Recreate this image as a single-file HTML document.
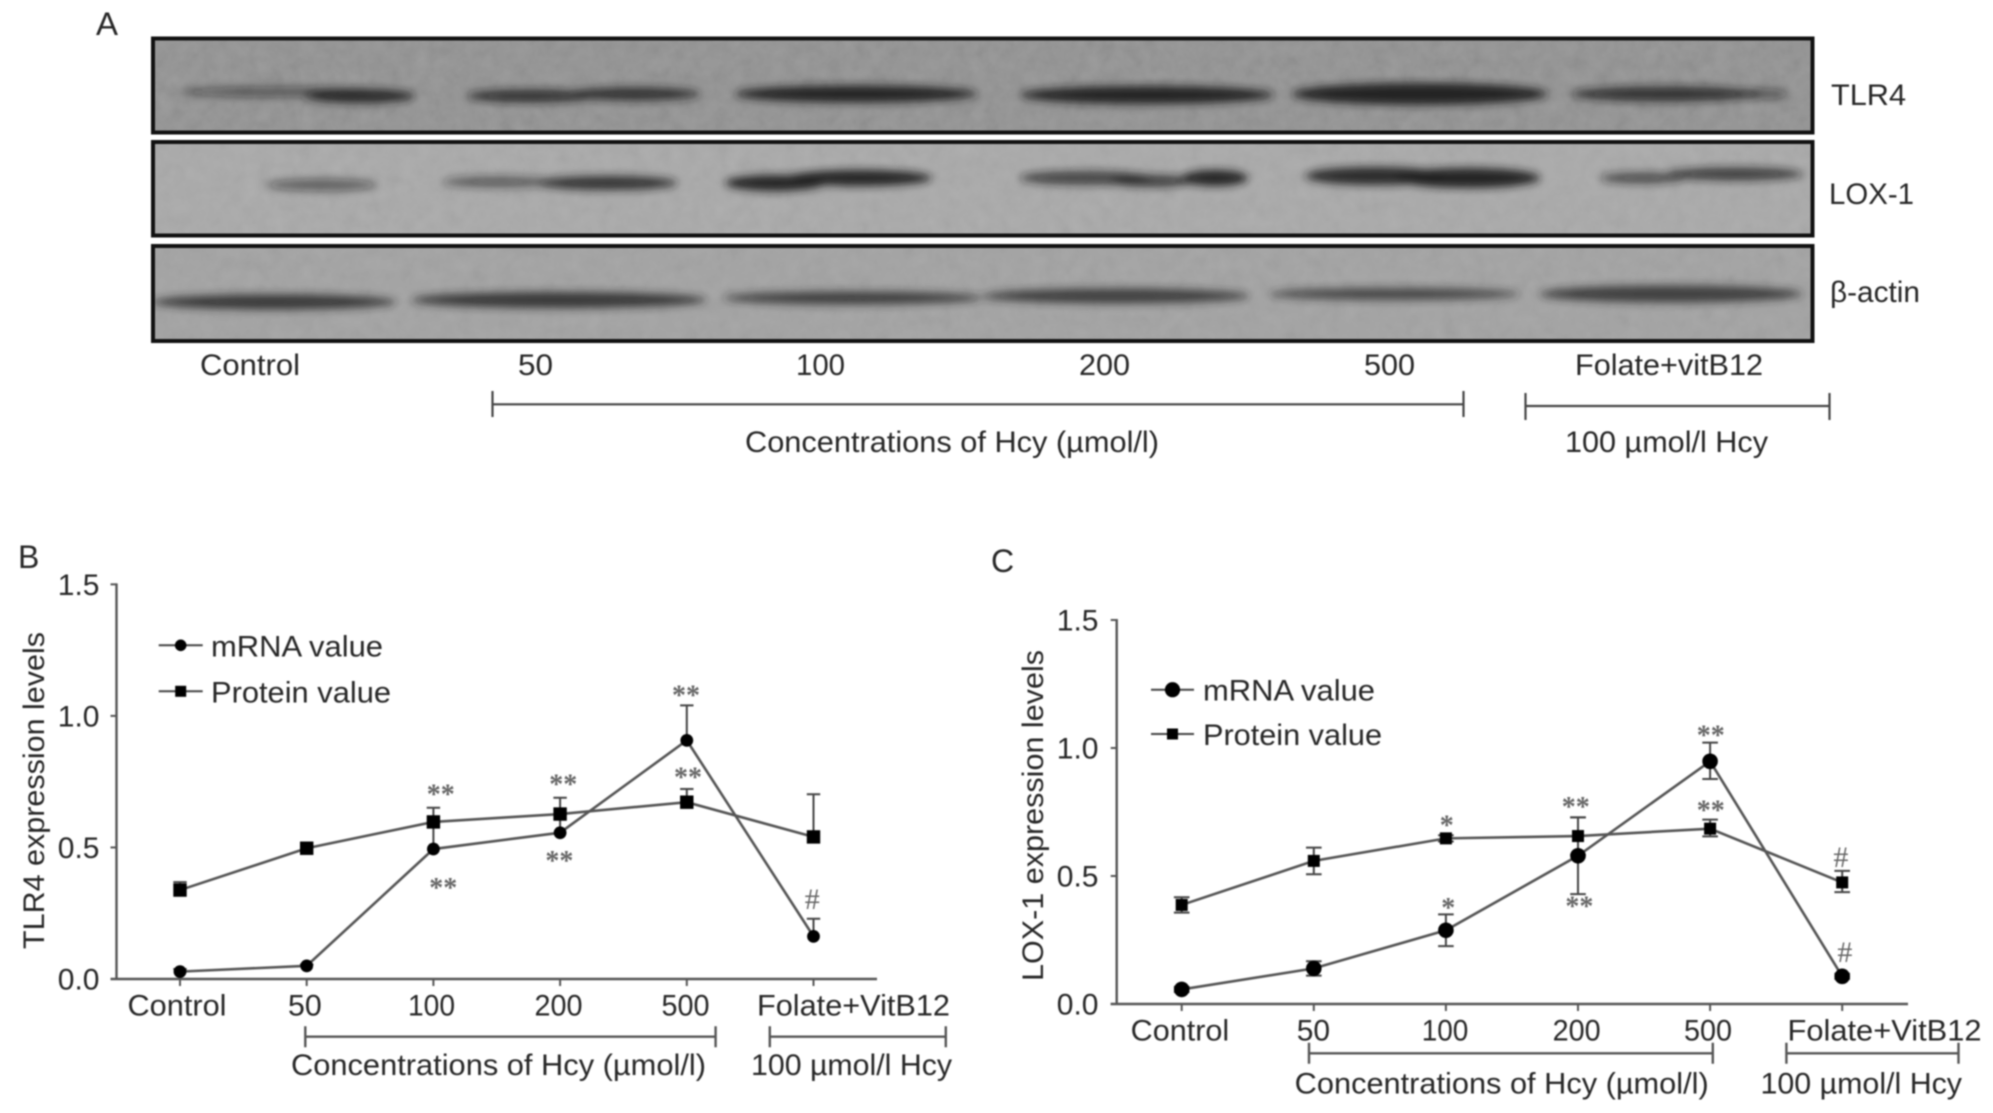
<!DOCTYPE html>
<html lang="en">
<head>
<meta charset="utf-8">
<title>TLR4 and LOX-1 expression figure</title>
<style>
  html, body { margin: 0; padding: 0; background: #fff; }
  #figure { display: block; width: 1993px; height: 1113px; }
  text { font-family: "Liberation Sans", Arial, sans-serif; fill: #272727; }
  .soft { filter: blur(0.7px); }
</style>
</head>
<body>
<svg id="figure" xmlns="http://www.w3.org/2000/svg" width="1993" height="1113" viewBox="0 0 1993 1113">
  <defs>
    <filter id="band-blur" x="-20%" y="-100%" width="140%" height="300%"><feGaussianBlur stdDeviation="4.2"/></filter>
    <filter id="grain" x="0" y="0" width="100%" height="100%">
      <feTurbulence type="fractalNoise" baseFrequency="0.07" numOctaves="3" seed="7"/>
      <feColorMatrix type="matrix" values="0.33 0.33 0.33 0 0  0.33 0.33 0.33 0 0  0.33 0.33 0.33 0 0  0 0 0 0 1"/>
    </filter>
    <clipPath id="clip-blot-1"><rect x="153" y="39" width="1659" height="93"/></clipPath>
    <clipPath id="clip-blot-2"><rect x="153" y="142" width="1659" height="93"/></clipPath>
    <clipPath id="clip-blot-3"><rect x="153" y="246" width="1659" height="95"/></clipPath>
  </defs>

  <g id="panel-a" class="soft">
    <text x="96" y="35" font-size="32" textLength="22" lengthAdjust="spacingAndGlyphs">A</text>

    <g>
      <rect x="153" y="39" width="1659" height="93" fill="#8f8f8f"/>
      <rect x="153" y="39" width="1659" height="93" filter="url(#grain)" opacity="0.16"/>
      <g clip-path="url(#clip-blot-1)" filter="url(#band-blur)" fill="#1c1c1c">
        <ellipse cx="275" cy="92" rx="95" ry="5" opacity="0.5"/>
        <ellipse cx="360" cy="96" rx="55" ry="7" opacity="0.9"/>
        <ellipse cx="530" cy="96" rx="64" ry="6.5" opacity="0.8"/>
        <ellipse cx="635" cy="94" rx="66" ry="6.5" opacity="0.85"/>
        <ellipse cx="856" cy="94" rx="122" ry="8.5" opacity="0.95"/>
        <ellipse cx="1147" cy="95" rx="127" ry="9" opacity="0.95"/>
        <ellipse cx="1420" cy="94" rx="128" ry="11" opacity="0.95"/>
        <ellipse cx="1665" cy="94" rx="94" ry="7.5" opacity="0.8"/>
        <ellipse cx="1765" cy="94" rx="24" ry="5" opacity="0.5"/>
      </g>
      <rect x="153" y="38.5" width="1659.5" height="94" fill="none" stroke="#111" stroke-width="4"/>
    </g>

    <g>
      <rect x="153" y="142" width="1659" height="93" fill="#a9a9a9"/>
      <rect x="153" y="142" width="1659" height="93" filter="url(#grain)" opacity="0.1"/>
      <g clip-path="url(#clip-blot-2)" filter="url(#band-blur)" fill="#1c1c1c">
        <ellipse cx="322" cy="185" rx="56" ry="6" opacity="0.5"/>
        <ellipse cx="498" cy="182" rx="56" ry="5.5" opacity="0.55"/>
        <ellipse cx="608" cy="183" rx="70" ry="7" opacity="0.85"/>
        <ellipse cx="775" cy="183" rx="50" ry="8" opacity="0.95"/>
        <ellipse cx="860" cy="178" rx="72" ry="8" opacity="0.95"/>
        <ellipse cx="1085" cy="178" rx="66" ry="7" opacity="0.7"/>
        <ellipse cx="1152" cy="181" rx="42" ry="6" opacity="0.75"/>
        <ellipse cx="1215" cy="178" rx="33" ry="8" opacity="0.95"/>
        <ellipse cx="1375" cy="176" rx="70" ry="9" opacity="0.9"/>
        <ellipse cx="1468" cy="178" rx="72" ry="10" opacity="0.95"/>
        <ellipse cx="1642" cy="178" rx="42" ry="5.5" opacity="0.65"/>
        <ellipse cx="1735" cy="174" rx="68" ry="6.5" opacity="0.75"/>
      </g>
      <rect x="153" y="142" width="1659.5" height="93.5" fill="none" stroke="#111" stroke-width="4"/>
    </g>

    <g>
      <rect x="153" y="246" width="1659" height="95" fill="#a2a2a2"/>
      <rect x="153" y="246" width="1659" height="95" filter="url(#grain)" opacity="0.1"/>
      <g clip-path="url(#clip-blot-3)" filter="url(#band-blur)" fill="#262626">
        <ellipse cx="274" cy="302" rx="122" ry="7.5" opacity="0.85"/>
        <ellipse cx="559" cy="300" rx="148" ry="8" opacity="0.85"/>
        <ellipse cx="853" cy="298" rx="130" ry="6.5" opacity="0.8"/>
        <ellipse cx="1116" cy="296" rx="134" ry="7.5" opacity="0.8"/>
        <ellipse cx="1394" cy="294" rx="126" ry="6" opacity="0.75"/>
        <ellipse cx="1671" cy="294" rx="132" ry="8.5" opacity="0.8"/>
      </g>
      <rect x="153" y="246" width="1659.5" height="95" fill="none" stroke="#111" stroke-width="4"/>
    </g>

    <text x="1831" y="105" font-size="30" textLength="75" lengthAdjust="spacingAndGlyphs">TLR4</text>
    <text x="1829" y="204" font-size="30" textLength="85" lengthAdjust="spacingAndGlyphs">LOX-1</text>
    <text x="1830" y="302" font-size="30" textLength="90" lengthAdjust="spacingAndGlyphs">β-actin</text>

    <text x="200" y="375" font-size="30" textLength="100" lengthAdjust="spacingAndGlyphs">Control</text>
    <text x="518" y="375" font-size="30" textLength="35" lengthAdjust="spacingAndGlyphs">50</text>
    <text x="796" y="375" font-size="30" textLength="49" lengthAdjust="spacingAndGlyphs">100</text>
    <text x="1079" y="375" font-size="30" textLength="51" lengthAdjust="spacingAndGlyphs">200</text>
    <text x="1364" y="375" font-size="30" textLength="51" lengthAdjust="spacingAndGlyphs">500</text>
    <text x="1575" y="375" font-size="30" textLength="188" lengthAdjust="spacingAndGlyphs">Folate+vitB12</text>

    <path d="M492.5 391V417M492.5 404.3H1463.5M1463.5 391V417" fill="none" stroke="#444" stroke-width="2.2"/>
    <path d="M1525.5 393V420M1525.5 406H1829.5M1829.5 393V420" fill="none" stroke="#444" stroke-width="2.2"/>
    <text x="745" y="452" font-size="30" textLength="414" lengthAdjust="spacingAndGlyphs">Concentrations of Hcy (µmol/l)</text>
    <text x="1565" y="452" font-size="30" textLength="203" lengthAdjust="spacingAndGlyphs">100 µmol/l Hcy</text>
  </g>

  <g id="panel-b" class="soft"></g>
  <g id="panel-c" class="soft"></g>
</svg>

<script>
// Shared axis data
const categories = ['Control', '50', '100', '200', '500', 'Folate+VitB12'];
const yTickValues = [0, 0.5, 1, 1.5];
const yTickLabels = ['0.0', '0.5', '1.0', '1.5'];

// Panel B: TLR4
const tlr4Mrna = [0.028, 0.05, 0.494, 0.556, 0.907, 0.162];
const tlr4MrnaErrUp = [0.01, 0.005, 0.1, 0.07, 0.133, 0.067];
const tlr4MrnaErrDown = [0, 0, 0, 0, 0, 0];
const tlr4Protein = [0.338, 0.497, 0.597, 0.627, 0.672, 0.54];
const tlr4ProteinErrUp = [0.03, 0.01, 0.054, 0.062, 0.05, 0.162];
const tlr4ProteinErrDown = [0, 0, 0, 0, 0, 0];
const tlr4NoteLabels = ['**', '**', '**', '**', '**', '**', '#'];
const tlr4NoteCategories = [2.058, 2.078, 3.025, 2.994, 3.994, 4.009, 4.99];
const tlr4NoteValues = [0.716, 0.361, 0.754, 0.463, 1.092, 0.782, 0.304];

// Panel C: LOX-1
const lox1Mrna = [0.057, 0.139, 0.288, 0.579, 0.948, 0.108];
const lox1MrnaErrUp = [0.01, 0.028, 0.062, 0.15, 0.073, 0.01];
const lox1MrnaErrDown = [0.01, 0.028, 0.062, 0.15, 0.069, 0.01];
const lox1Protein = [0.387, 0.559, 0.647, 0.656, 0.685, 0.475];
const lox1ProteinErrUp = [0.03, 0.052, 0.012, 0.073, 0.035, 0.045];
const lox1ProteinErrDown = [0.03, 0.052, 0.012, 0.073, 0.03, 0.038];
const lox1NoteLabels = ['*', '*', '**', '**', '**', '**', '#', '#'];
const lox1NoteCategories = [2.006, 2.018, 2.983, 3.01, 4.005, 4.005, 4.99, 5.02];
const lox1NoteValues = [0.712, 0.391, 0.786, 0.397, 1.064, 0.771, 0.575, 0.204];

const SVG_NS = 'http://www.w3.org/2000/svg';

function svgEl(parent, tag, attrs, content) {
  const node = document.createElementNS(SVG_NS, tag);
  for (const key in attrs) node.setAttribute(key, attrs[key]);
  if (content !== undefined) node.textContent = content;
  parent.appendChild(node);
  return node;
}

function drawChart(root, cfg) {
  const xOf = i => cfg.x0 + i * cfg.xStep;
  const yOf = v => cfg.y0 - v * cfg.yUnit;

  // Series lines go first so markers sit on top
  const axes = svgEl(root, 'g', {});
  
  

  const yAxis = svgEl(axes, 'line', { x1: cfg.axisX, x2: cfg.axisX, y1: yOf(1.5) - 1, y2: cfg.y0 + 1, stroke: '#555', 'stroke-width': 2.4 });
  
  

  const xAxis = svgEl(axes, 'line', { x1: cfg.axisX - 6, x2: cfg.axisRight, y1: cfg.y0, y2: cfg.y0, stroke: '#555', 'stroke-width': 2.4 });
  
  

  yTickValues.forEach((v, i) => {
    const tick = svgEl(axes, 'line', { x1: cfg.axisX - 6, x2: cfg.axisX, y1: yOf(v), y2: yOf(v), stroke: '#555', 'stroke-width': 2 });
    
    
    const label = svgEl(axes, 'text', { x: cfg.yLabelRight, y: yOf(v) + 10.7, 'font-size': 30, 'text-anchor': 'end' }, yTickLabels[i]);
    
    
  });

  categories.forEach((c, i) => {
    const tick = svgEl(axes, 'line', { x1: xOf(i), x2: xOf(i), y1: cfg.y0, y2: cfg.y0 + 7, stroke: '#555', 'stroke-width': 2 });
    
    
    const attrs = { y: cfg.xLabelY, 'font-size': 30, x: cfg.xLabelStarts[i], textLength: cfg.xLabelLengths[i], lengthAdjust: 'spacingAndGlyphs' };
    const label = svgEl(axes, 'text', attrs, c);
    
    
  });

  const title = svgEl(root, 'text', { x: cfg.titleX, y: cfg.titleY, 'font-size': 30, textLength: cfg.titleLength, lengthAdjust: 'spacingAndGlyphs', transform: 'rotate(-90 ' + cfg.titleX + ' ' + cfg.titleY + ')' }, cfg.title);
  
  

  const letter = svgEl(root, 'text', { x: cfg.letterX, y: cfg.letterY, 'font-size': 32 }, cfg.letter);
  
  

  // Brackets and captions under the axis
  const bracketOne = svgEl(root, 'path', { d: bracketPath(cfg.b1[0], cfg.b1[1], cfg.bracketY), fill: 'none', stroke: '#555', 'stroke-width': 2.4 });
  
  

  const bracketTwo = svgEl(root, 'path', { d: bracketPath(cfg.b2[0], cfg.b2[1], cfg.bracketY), fill: 'none', stroke: '#555', 'stroke-width': 2.4 });
  
  

  const captionOne = svgEl(root, 'text', { x: cfg.cap1[0], y: cfg.capY, 'font-size': 30, textLength: cfg.cap1[1], lengthAdjust: 'spacingAndGlyphs' }, 'Concentrations of Hcy (µmol/l)');
  
  

  const captionTwo = svgEl(root, 'text', { x: cfg.cap2[0], y: cfg.capY, 'font-size': 30, textLength: cfg.cap2[1], lengthAdjust: 'spacingAndGlyphs' }, '100 µmol/l Hcy');
  
  

  // Error bars
  const drawErrors = (values, up, down, seriesName) => {
    values.forEach((v, i) => {
      const top = yOf(v + up[i]);
      const bottom = yOf(v - down[i]);
      let d = 'M' + xOf(i) + ' ' + bottom + 'V' + top + 'M' + (xOf(i) - cfg.cap) + ' ' + top + 'H' + (xOf(i) + cfg.cap);
      if (down[i] > 0) d += 'M' + (xOf(i) - cfg.cap) + ' ' + bottom + 'H' + (xOf(i) + cfg.cap);
      const bar = svgEl(root, 'path', { d: d, fill: 'none', stroke: '#444', 'stroke-width': 2 });
      
      
    });
  };
  drawErrors(cfg.mrnaValues, cfg.mrnaUp, cfg.mrnaDown, 'mrna');
  drawErrors(cfg.proteinValues, cfg.proteinUp, cfg.proteinDown, 'protein');

  // Lines
  const linePoints = values => values.map((v, i) => xOf(i) + ',' + yOf(v)).join(' ');
  const mrnaLine = svgEl(root, 'polyline', { points: linePoints(cfg.mrnaValues), fill: 'none', stroke: '#555', 'stroke-width': 2.6 });
  
  
  const proteinLine = svgEl(root, 'polyline', { points: linePoints(cfg.proteinValues), fill: 'none', stroke: '#555', 'stroke-width': 2.6 });
  
  

  // Markers
  cfg.mrnaValues.forEach((v, i) => {
    const dot = svgEl(root, 'circle', { cx: xOf(i), cy: yOf(v), r: cfg.circleR, fill: '#000' });
    
    
  });
  cfg.proteinValues.forEach((v, i) => {
    const sq = svgEl(root, 'rect', { x: xOf(i) - cfg.squareHalf, y: yOf(v) - cfg.squareHalf, width: cfg.squareHalf * 2, height: cfg.squareHalf * 2, fill: '#000' });
    
    
  });

  // Significance marks
  cfg.noteLabels.forEach((t, i) => {
    const isHash = t === '#';
    const note = svgEl(root, 'text', {
      x: xOf(cfg.noteCategories[i]),
      y: yOf(cfg.noteValues[i]) + (isHash ? 10 : 13),
      'text-anchor': 'middle',
      'font-size': isHash ? 30 : 28,
      'font-weight': isHash ? 'normal' : 'bold',
      style: 'font-family:"Liberation Serif",serif;fill:#666;'
    }, t);
    
    
  });

  // Legend
  const legend = svgEl(root, 'g', {});
  
  

  const mrnaKey = svgEl(legend, 'line', { x1: cfg.legX0, x2: cfg.legX1, y1: cfg.legY1, y2: cfg.legY1, stroke: '#444', 'stroke-width': 2 });
  
  
  const mrnaDot = svgEl(legend, 'circle', { cx: (cfg.legX0 + cfg.legX1) / 2, cy: cfg.legY1, r: cfg.legR, fill: '#000' });
  
  
  const mrnaText = svgEl(legend, 'text', { x: cfg.legText, y: cfg.legY1 + 11, 'font-size': 30, textLength: cfg.legLen1, lengthAdjust: 'spacingAndGlyphs' }, 'mRNA value');
  
  

  const proteinKey = svgEl(legend, 'line', { x1: cfg.legX0, x2: cfg.legX1, y1: cfg.legY2, y2: cfg.legY2, stroke: '#444', 'stroke-width': 2 });
  
  
  const proteinSq = svgEl(legend, 'rect', { x: (cfg.legX0 + cfg.legX1) / 2 - 5.5, y: cfg.legY2 - 5.5, width: 11, height: 11, fill: '#000' });
  
  
  const proteinText = svgEl(legend, 'text', { x: cfg.legText, y: cfg.legY2 + 11, 'font-size': 30, textLength: cfg.legLen2, lengthAdjust: 'spacingAndGlyphs' }, 'Protein value');
  
  
}

function bracketPath(x1, x2, y) {
  return 'M' + x1 + ' ' + (y - 10.5) + 'V' + (y + 10.5) + 'M' + x1 + ' ' + y + 'H' + x2 + 'M' + x2 + ' ' + (y - 10.5) + 'V' + (y + 10.5);
}

drawChart(document.getElementById('panel-b'), {
  x0: 180, xStep: 126.7, y0: 979, yUnit: 263.1,
  axisX: 116.5, axisRight: 877, yLabelRight: 99.5,
  xLabelY: 1015.7,
  xLabelStarts: [127.5, 288, 408, 534.5, 661.5, 757],
  xLabelLengths: [99, 33.7, 47, 48, 48, 193],
  title: 'TLR4 expression levels', titleX: 44, titleY: 949, titleLength: 317,
  letter: 'B', letterX: 18, letterY: 568,
  bracketY: 1036.7, b1: [305.3, 715.6], b2: [769.8, 945.8],
  capY: 1075, cap1: [291, 415], cap2: [751, 201],
  cap: 6.7, circleR: 6.4, squareHalf: 6.7,
  mrnaValues: tlr4Mrna, mrnaUp: tlr4MrnaErrUp, mrnaDown: tlr4MrnaErrDown,
  proteinValues: tlr4Protein, proteinUp: tlr4ProteinErrUp, proteinDown: tlr4ProteinErrDown,
  noteLabels: tlr4NoteLabels, noteCategories: tlr4NoteCategories, noteValues: tlr4NoteValues,
  legX0: 158.7, legX1: 202.7, legY1: 645.3, legY2: 691.3, legR: 5.8,
  legText: 211, legLen1: 172, legLen2: 180
});

drawChart(document.getElementById('panel-c'), {
  x0: 1181.7, xStep: 132.1, y0: 1004, yUnit: 256,
  axisX: 1116.7, axisRight: 1908, yLabelRight: 1098.5,
  xLabelY: 1040.7,
  xLabelStarts: [1130.7, 1296.7, 1421.7, 1552.6, 1684, 1787.5],
  xLabelLengths: [98.5, 33.3, 46.6, 48, 48, 194],
  title: 'LOX-1 expression levels', titleX: 1043, titleY: 981, titleLength: 331,
  letter: 'C', letterX: 991, letterY: 572,
  bracketY: 1053.3, b1: [1309, 1712.8], b2: [1786.4, 1958.5],
  capY: 1093.3, cap1: [1294.7, 414], cap2: [1760.5, 201.5],
  cap: 7.8, circleR: 7.8, squareHalf: 6,
  mrnaValues: lox1Mrna, mrnaUp: lox1MrnaErrUp, mrnaDown: lox1MrnaErrDown,
  proteinValues: lox1Protein, proteinUp: lox1ProteinErrUp, proteinDown: lox1ProteinErrDown,
  noteLabels: lox1NoteLabels, noteCategories: lox1NoteCategories, noteValues: lox1NoteValues,
  legX0: 1151, legX1: 1194, legY1: 689.7, legY2: 734, legR: 7.6,
  legText: 1203, legLen1: 172, legLen2: 179
});
</script>
</body>
</html>
